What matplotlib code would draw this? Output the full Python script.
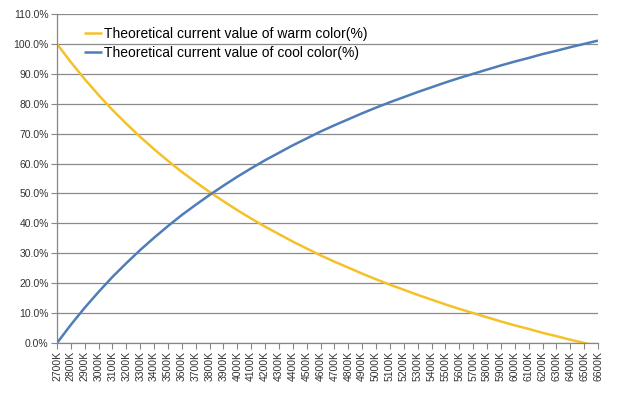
import matplotlib
matplotlib.use("Agg")
import matplotlib.pyplot as plt
from matplotlib.ticker import FuncFormatter, MultipleLocator

categories = [f"{t}K" for t in range(2700, 6700, 100)]
warm = [100.0, 93.9, 88.2, 82.9, 77.9, 73.3, 68.9, 64.8, 60.9, 57.2,
        53.8, 50.5, 47.4, 44.4, 41.6, 38.9, 36.4, 33.9, 31.6, 29.3,
        27.2, 25.2, 23.2, 21.3, 19.5, 17.8, 16.1, 14.5, 12.9, 11.4,
        10.0, 8.6, 7.2, 5.9, 4.7, 3.4, 2.3, 1.1, 0.0, -1.1]
cool = [0.0, 6.1, 11.8, 17.1, 22.1, 26.7, 31.1, 35.2, 39.1, 42.8,
        46.2, 49.5, 52.6, 55.6, 58.4, 61.1, 63.6, 66.1, 68.4, 70.7,
        72.8, 74.8, 76.8, 78.7, 80.5, 82.2, 83.9, 85.5, 87.1, 88.6,
        90.0, 91.4, 92.8, 94.1, 95.3, 96.6, 97.7, 98.9, 100.0, 101.1]
labels = ["Theoretical current value of warm color(%)",
          "Theoretical current value of cool color(%)"]

plt.rcParams['font.family'] = ['Liberation Sans', 'DejaVu Sans']

fig = plt.figure(figsize=(6.2, 3.94), dpi=100)
ax = fig.add_axes([57/620, 1-343/394, (598-57)/620, (343-14)/394])

x = list(range(len(categories)))
ax.plot(x, warm, color="#F5C12A", lw=1.8, label=labels[0], solid_capstyle="butt")
ax.plot(x, cool, color="#4F7DB8", lw=1.8, label=labels[1], solid_capstyle="butt")

ax.set_xlim(0, len(categories) - 1)
ax.set_ylim(0, 110)
ax.yaxis.set_major_locator(MultipleLocator(10))
ax.yaxis.set_major_formatter(FuncFormatter(lambda v, p: f"{v:.1f}%"))
ax.set_xticks(x)
ax.set_xticklabels(categories, rotation=90, fontsize=7.5, color="#333333")
ax.tick_params(axis='y', length=4, labelsize=7.5, colors="#333333", pad=2, color="#878787")
ax.tick_params(axis='x', length=4, pad=2, color="#878787")

ax.grid(axis='y', color="#8a8a8a", lw=0.9)
ax.set_axisbelow(True)
for s in ["top", "right"]:
    ax.spines[s].set_visible(False)
ax.spines["left"].set_color("#878787")
ax.spines["bottom"].set_color("#878787")
ax.spines["left"].set_linewidth(0.9)
ax.spines["bottom"].set_linewidth(0.9)

leg = ax.legend(loc="upper left", bbox_to_anchor=(0.04, 0.978), frameon=False,
                fontsize=10, handlelength=1.3, handletextpad=0.15, labelspacing=0.4,
                borderaxespad=0)

fig.savefig("out.png", dpi=100)
